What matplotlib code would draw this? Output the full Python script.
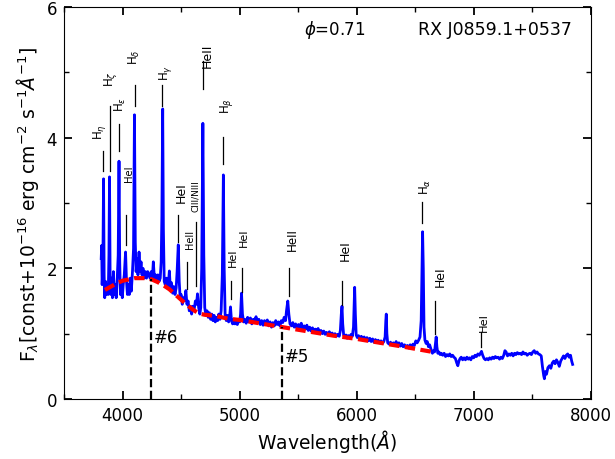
import matplotlib
matplotlib.use("Agg")
import matplotlib.pyplot as plt
from matplotlib.ticker import MultipleLocator

wave = [3818, 3822, 3826, 3832, 3838, 3843, 3848, 3855, 3862, 3870, 3878, 3884, 3889, 3894, 3900,
        3907, 3914, 3922, 3930, 3938, 3946, 3955, 3963, 3970, 3976, 3982, 3990, 3998, 4006, 4015,
        4026, 4034, 4042, 4050, 4058, 4066, 4075, 4085, 4094, 4102, 4109, 4116, 4124, 4132, 4141,
        4150, 4158, 4166, 4175, 4185, 4195, 4205, 4215, 4225, 4235, 4245, 4255, 4263, 4272, 4282,
        4292, 4302, 4312, 4322, 4330, 4336, 4343, 4349, 4356, 4365, 4375, 4385, 4393, 4400, 4408,
        4418, 4428, 4438, 4448, 4458, 4466, 4476, 4484, 4492, 4500, 4510, 4520, 4530, 4541, 4550,
        4560, 4570, 4580, 4590, 4600, 4610, 4622, 4632, 4640, 4650, 4660, 4668, 4676, 4686, 4694,
        4702, 4712, 4722, 4732, 4742, 4752, 4762, 4772, 4782, 4792, 4802, 4812, 4822, 4832, 4842,
        4852, 4861, 4868, 4876, 4886, 4896, 4906, 4914, 4922, 4930, 4940, 4950, 4960, 4970, 4980,
        4990, 5000, 5008, 5016, 5024, 5034, 5044, 5056, 5068, 5080, 5092, 5104, 5116, 5128, 5140,
        5152, 5164, 5176, 5188, 5200, 5212, 5224, 5236, 5248, 5260, 5272, 5284, 5296, 5308, 5320,
        5332, 5344, 5356, 5368, 5380, 5392, 5400, 5411, 5420, 5430, 5442, 5454, 5466, 5478, 5490,
        5502, 5514, 5526, 5538, 5550, 5562, 5574, 5586, 5598, 5610, 5622, 5634, 5646, 5658, 5670,
        5682, 5694, 5706, 5718, 5730, 5742, 5754, 5766, 5778, 5790, 5802, 5814, 5826, 5838, 5850,
        5860, 5868, 5874, 5880, 5888, 5898, 5908, 5918, 5928, 5940, 5952, 5962, 5972, 5978, 5982,
        5988, 5995, 6005, 6015, 6027, 6039, 6051, 6063, 6075, 6087, 6099, 6111, 6123, 6135, 6147,
        6159, 6171, 6183, 6195, 6207, 6219, 6231, 6242, 6248, 6252, 6257, 6264, 6276, 6288, 6300,
        6312, 6324, 6336, 6348, 6360, 6372, 6384, 6396, 6408, 6420, 6432, 6444, 6456, 6468, 6480,
        6492, 6504, 6516, 6528, 6540, 6550, 6556, 6562, 6568, 6574, 6582, 6592, 6602, 6612, 6622,
        6634, 6646, 6656, 6664, 6672, 6678, 6684, 6692, 6702, 6712, 6722, 6734, 6746, 6758, 6770,
        6782, 6794, 6806, 6818, 6830, 6842, 6854, 6863, 6872, 6882, 6892, 6904, 6916, 6928, 6940,
        6952, 6962, 6974, 6986, 6998, 7010, 7022, 7034, 7046, 7058, 7065, 7075, 7087, 7099, 7111,
        7123, 7135, 7147, 7159, 7171, 7183, 7195, 7207, 7219, 7231, 7243, 7255, 7265, 7275, 7287,
        7299, 7311, 7323, 7335, 7347, 7359, 7371, 7383, 7395, 7407, 7419, 7431, 7443, 7455, 7467,
        7479, 7491, 7503, 7515, 7527, 7539, 7551, 7563, 7575, 7585, 7596, 7602, 7610, 7620, 7632,
        7645, 7657, 7669, 7681, 7693, 7705, 7717, 7729, 7741, 7753, 7765, 7777, 7789, 7801, 7813,
        7825, 7835, 7843]
flux = [2.15, 2.35, 1.75, 2.0, 3.37, 1.9, 1.55, 1.8, 1.6, 1.75, 1.6, 2.2, 3.40, 1.9, 1.6,
        1.85, 1.55, 1.95, 1.6, 1.75, 1.55, 1.85, 2.2, 3.64, 2.1, 1.6, 1.8, 1.55, 1.75, 1.9,
        2.25, 1.8, 1.6, 1.75, 1.6, 1.85, 1.65, 1.95, 2.3, 4.35, 2.4, 1.95, 2.15, 1.9, 2.25,
        1.95, 2.1, 1.9, 2.0, 1.85, 1.95, 1.85, 1.95, 1.9, 1.85, 1.95, 1.85, 2.1, 1.85, 1.9,
        1.8, 1.9, 1.8, 1.85, 2.1, 2.8, 4.44, 2.6, 1.8, 1.75, 1.85, 1.7, 1.8, 1.96, 1.7,
        1.78, 1.62, 1.72, 1.6, 1.7, 1.95, 2.36, 1.8, 1.55, 1.6, 1.45, 1.55, 1.5, 1.66, 1.45,
        1.5, 1.35, 1.42, 1.3, 1.42, 1.35, 1.5, 1.45, 1.61, 1.4, 1.3, 1.4, 2.0, 4.22, 2.2,
        1.4, 1.28, 1.35, 1.25, 1.32, 1.22, 1.3, 1.2, 1.28, 1.18, 1.25, 1.2, 1.3, 1.22, 1.35,
        1.9, 3.43, 2.0, 1.3, 1.2, 1.28, 1.18, 1.25, 1.41, 1.2, 1.15, 1.22, 1.15, 1.2, 1.14,
        1.22, 1.18, 1.3, 1.62, 1.3, 1.18, 1.22, 1.16, 1.25, 1.18, 1.24, 1.15, 1.22, 1.2, 1.26,
        1.17, 1.22, 1.14, 1.2, 1.13, 1.2, 1.15, 1.21, 1.12, 1.18, 1.1, 1.17, 1.12, 1.2, 1.14,
        1.18, 1.12, 1.2, 1.17, 1.25, 1.2, 1.35, 1.50, 1.3, 1.15, 1.12, 1.17, 1.1, 1.15, 1.08,
        1.14, 1.1, 1.16, 1.06, 1.12, 1.07, 1.13, 1.05, 1.1, 1.04, 1.09, 1.02, 1.07, 1.04, 1.08,
        1.01, 1.05, 1.0, 1.04, 0.99, 1.02, 0.98, 1.03, 0.98, 1.01, 0.97, 1.0, 0.96, 0.99, 0.96,
        1.05, 1.3, 1.42, 1.15, 0.98, 0.94, 0.98, 0.93, 0.97, 0.95, 0.99, 0.96, 1.1, 1.5, 1.71,
        1.3, 0.98, 0.94, 0.97, 0.92, 0.96, 0.91, 0.95, 0.9, 0.94, 0.89, 0.93, 0.88, 0.92, 0.87,
        0.91, 0.87, 0.9, 0.86, 0.89, 0.85, 0.88, 0.95, 1.2, 1.30, 1.0, 0.86, 0.84, 0.87, 0.83,
        0.86, 0.82, 0.88, 0.83, 0.86, 0.81, 0.85, 0.8, 0.83, 0.79, 0.82, 0.78, 0.83, 0.8, 0.84,
        0.82, 0.89, 0.86, 0.9, 0.95, 1.2, 1.9, 2.56, 2.0, 1.1, 0.9, 0.85, 0.88, 0.8, 0.83,
        0.76, 0.7, 0.74, 0.72, 0.85, 0.95, 0.8, 0.7, 0.72, 0.68, 0.7, 0.67, 0.7, 0.65, 0.68,
        0.66, 0.69, 0.65, 0.67, 0.64, 0.62, 0.55, 0.51, 0.58, 0.62, 0.64, 0.6, 0.63, 0.6, 0.64,
        0.61, 0.63, 0.6, 0.65, 0.63, 0.67, 0.65, 0.69, 0.67, 0.71, 0.73, 0.67, 0.62, 0.6, 0.62,
        0.6, 0.63, 0.61, 0.64, 0.62, 0.65, 0.63, 0.64, 0.61, 0.64, 0.62, 0.67, 0.74, 0.72, 0.66,
        0.69, 0.67, 0.7, 0.66, 0.7, 0.68, 0.71, 0.69, 0.7, 0.68, 0.72, 0.69, 0.7, 0.67, 0.69,
        0.7, 0.68, 0.72, 0.74, 0.7, 0.72, 0.69, 0.68, 0.66, 0.5, 0.36, 0.31, 0.42, 0.38, 0.48,
        0.51, 0.47, 0.55, 0.58, 0.54, 0.6, 0.56, 0.5, 0.58, 0.62, 0.66, 0.62, 0.67, 0.69, 0.64,
        0.67, 0.58, 0.53]

# continuum fit (red dashed)
cont_wave = [3850, 3900, 3950, 4000, 4050, 4100, 4150, 4200, 4250, 4300, 4350, 4400, 4450, 4500,
             4550, 4600, 4650, 4700, 4750, 4800, 4900, 5000, 5200, 5400, 5600, 5800, 6000, 6200,
             6400, 6650]
cont_flux = [1.67, 1.72, 1.77, 1.81, 1.83, 1.85, 1.85, 1.85, 1.83, 1.79, 1.74, 1.68, 1.60, 1.52,
             1.44, 1.37, 1.31, 1.29, 1.28, 1.27, 1.23, 1.21, 1.15, 1.09, 1.03, 0.97, 0.92, 0.86,
             0.80, 0.72]

# continuum points #6 and #5
point_wave = [4240, 5360]
point_flux = [1.84, 1.10]
point_names = ["#6", "#5"]
point_label_y = [0.95, 0.66]

# line identifications
line_names = [r"H$_\eta$", r"H$_\zeta$", r"H$_\epsilon$", "HeI", r"H$_\delta$", r"H$_\gamma$",
              "HeI", "HeII", "CIII/NIII", "HeII", r"H$_\beta$", "HeI", "HeI", "HeII", "HeI",
              r"H$_\alpha$", "HeI", "HeI"]
line_wave = [3836, 3893, 3973, 4030, 4107, 4339, 4471, 4552, 4624, 4689, 4859, 4925, 5016,
             5419, 5874, 6559, 6670, 7059]
tick_lo = [3.49, 3.49, 3.79, 2.35, 4.49, 4.49, 2.40, 1.68, 1.73, 4.75, 3.60, 1.53, 1.64,
           1.58, 1.44, 2.69, 0.99, 0.79]
tick_hi = [3.80, 4.49, 4.21, 2.81, 4.81, 4.81, 2.81, 2.10, 2.71, 5.18, 4.01, 1.80, 2.01,
           2.00, 1.80, 3.01, 1.50, 1.02]
text_wave = [3800, 3896, 3979, 4055, 4098, 4367, 4503, 4580, 4625, 4720, 4891, 4938, 5040,
             5449, 5905, 6587, 6715, 7082]
text_flux = [4.10, 4.91, 4.52, 3.47, 5.24, 5.00, 3.18, 2.46, 3.12, 5.27, 4.50, 2.18, 2.48,
             2.45, 2.28, 3.27, 1.88, 1.18]
text_size = [8.5, 8.5, 8.5, 7.2, 8.5, 8.5, 9, 7, 6.5, 9, 8.5, 8, 8, 8.6, 9, 8.5, 8.9, 8.2]

fig = plt.figure(figsize=(6.15, 4.6), dpi=100)
ax = fig.add_axes([0.104, 0.1304, 0.857, 0.8522])

ax.plot(wave, flux, color="blue", lw=2)
ax.plot(cont_wave, cont_flux, color="red", lw=3, dashes=(2.5, 1.3))

# dashed markers down to the axis
for w, f, name, ly in zip(point_wave, point_flux, point_names, point_label_y):
    ax.plot([w, w], [0, f], color="k", lw=1.6, ls="--")
    ax.text(w + 25, ly, name, fontsize=12, va="center", ha="left")

for i in range(len(line_names)):
    ax.plot([line_wave[i], line_wave[i]], [tick_lo[i], tick_hi[i]], color="k", lw=0.9)
    ax.text(text_wave[i], text_flux[i], line_names[i], rotation=90, fontsize=text_size[i],
            ha="center", va="center")

ax.text(0.514, 0.944, r"$\phi$=0.71", transform=ax.transAxes, fontsize=12, ha="center", va="center")
ax.text(0.818, 0.944, "RX J0859.1+0537", transform=ax.transAxes, fontsize=12.5, ha="center", va="center")

ax.set_xlim(3500, 8000)
ax.set_ylim(0, 6)
ax.xaxis.set_major_locator(MultipleLocator(1000))
ax.xaxis.set_minor_locator(MultipleLocator(500))
ax.yaxis.set_major_locator(MultipleLocator(2))
ax.yaxis.set_minor_locator(MultipleLocator(1))
ax.tick_params(which="both", direction="in", top=True, right=True, labelsize=12)
ax.tick_params(which="major", length=6, width=1.3, pad=5)
ax.tick_params(which="minor", length=3.5, width=1)

ax.set_xlabel(r"Wavelength($\AA$)", fontsize=13.5, labelpad=2)
ax.set_ylabel(r"F$_\lambda$[const+10$^{-16}$ erg cm$^{-2}$ s$^{-1}$$\AA^{-1}$]", fontsize=13.5)

fig.savefig("out.png", dpi=100)
